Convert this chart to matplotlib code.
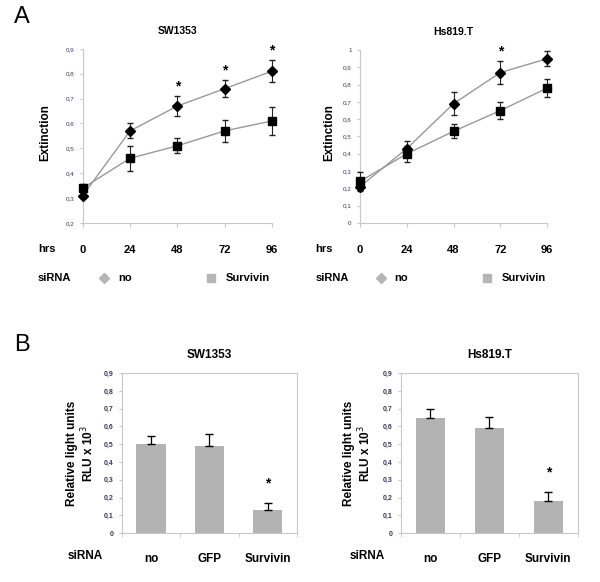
import matplotlib
matplotlib.use("Agg")
import matplotlib.pyplot as plt
from matplotlib.ticker import FixedLocator, FuncFormatter

plt.rcParams['font.family'] = ['Liberation Sans', 'DejaVu Sans']

# data, panel A (growth curves)
hrs = [0, 24, 48, 72, 96]
sw_no = [0.31, 0.57, 0.67, 0.74, 0.81]
sw_no_err = [0.01, 0.03, 0.04, 0.035, 0.045]
sw_surv = [0.34, 0.46, 0.51, 0.57, 0.61]
sw_surv_err = [0.015, 0.05, 0.03, 0.045, 0.055]
sw_stars = [48, 72, 96]

hs_no = [0.21, 0.43, 0.69, 0.87, 0.95]
hs_no_err = [0.02, 0.045, 0.065, 0.065, 0.045]
hs_surv = [0.24, 0.40, 0.53, 0.65, 0.78]
hs_surv_err = [0.055, 0.045, 0.04, 0.05, 0.05]
hs_stars = [72]

# data, panel B (luciferase)
bar_cats = ['no', 'GFP', 'Survivin']
sw_rlu = [0.50, 0.49, 0.13]
sw_rlu_err = [0.045, 0.065, 0.04]
hs_rlu = [0.65, 0.59, 0.18]
hs_rlu_err = [0.05, 0.065, 0.05]
bar_stars = ['Survivin']

tick_col = '#3a3a5a'
spine_col = '#c8c8c8'


def comma(v, pos=None):
    s = '%.1f' % v
    if s.endswith('.0'):
        s = s[:-2]
    return s.replace('.', ',')


def line_panel(ax, title, no, no_err, surv, surv_err, stars, ylim, step, ylab_x):
    ax.plot(hrs, no, color='#999999', lw=1, zorder=2, clip_on=False)
    ax.plot(hrs, surv, color='#999999', lw=1, zorder=2, clip_on=False)
    ax.errorbar(hrs, no, yerr=no_err, fmt='D', color='black', ms=5,
                ecolor='#222222', elinewidth=0.8, capsize=2.5, zorder=3, clip_on=False)
    ax.errorbar(hrs, surv, yerr=surv_err, fmt='s', color='black', ms=6,
                ecolor='#222222', elinewidth=0.8, capsize=2.5, zorder=3, clip_on=False)
    for h in stars:
        i = hrs.index(h)
        ax.annotate('*', (h, no[i] + no_err[i]), xytext=(0, 7), textcoords='offset points',
                    ha='center', va='center', fontsize=10, fontweight='bold')
    ax.set_xlim(0, 96)
    ax.set_ylim(*ylim)
    n = int(round((ylim[1] - ylim[0]) / step))
    ax.yaxis.set_major_locator(FixedLocator([ylim[0] + k * step for k in range(n + 1)]))
    ax.yaxis.set_major_formatter(FuncFormatter(comma))
    ax.set_xticks(hrs)
    ax.set_xticklabels([str(h) for h in hrs], fontsize=8, fontweight='bold')
    ax.tick_params(axis='x', length=3, pad=13, color=spine_col)
    ax.tick_params(axis='y', length=2.5, labelsize=4.5, labelcolor=tick_col, color=spine_col)
    for s in ['top', 'right']:
        ax.spines[s].set_visible(False)
    for s in ['left', 'bottom']:
        ax.spines[s].set_color(spine_col)
    ax.set_title(title, fontsize=7.5, fontweight='bold', pad=11)
    ax.set_ylabel('Extinction', fontsize=8.5, fontweight='bold')
    ax.yaxis.set_label_coords(ylab_x, 0.52)
    ax.text(-0.19, -0.15, 'hrs', transform=ax.transAxes, ha='center', va='center',
            fontsize=8, fontweight='bold')
    # legend row
    ax.text(-0.15, -0.316, 'siRNA', transform=ax.transAxes, ha='center', va='center',
            fontsize=8, fontweight='bold')
    ax.plot([0.11], [-0.316], 'D', color='#b5b5b5', ms=5, transform=ax.transAxes, clip_on=False)
    ax.text(0.185, -0.316, 'no', transform=ax.transAxes, ha='left', va='center',
            fontsize=8, fontweight='bold')
    ax.plot([0.678], [-0.316], 's', color='#b5b5b5', ms=5.5, transform=ax.transAxes, clip_on=False)
    ax.text(0.758, -0.316, 'Survivin', transform=ax.transAxes, ha='left', va='center',
            fontsize=8, fontweight='bold')


def bar_panel(ax, title, vals, errs, ylab_x, sirna_x):
    x = list(range(len(bar_cats)))
    ax.bar(x, vals, width=0.5, color='#b3b3b3', zorder=2)
    ax.errorbar(x, vals, yerr=[[0] * len(errs), errs], fmt='none', ecolor='black',
                elinewidth=0.9, capsize=3, zorder=3)
    for c in bar_stars:
        i = bar_cats.index(c)
        ax.annotate('*', (i, vals[i] + errs[i]), xytext=(0, 14), textcoords='offset points',
                    ha='center', va='center', fontsize=10, fontweight='bold')
    ax.set_xlim(-0.5, 2.5)
    ax.set_ylim(0, 0.9)
    ax.yaxis.set_major_locator(FixedLocator([k * 0.1 for k in range(10)]))
    ax.yaxis.set_major_formatter(FuncFormatter(comma))
    ax.set_xticks(x)
    ax.set_xticklabels(bar_cats, fontsize=8.5, fontweight='bold')
    ax.set_xticks([-0.5, 0.5, 1.5, 2.5], minor=True)
    ax.tick_params(axis='x', which='major', length=0, pad=14)
    ax.tick_params(axis='x', which='minor', length=3, color=spine_col)
    ax.tick_params(axis='y', length=2.5, labelsize=5, labelcolor=tick_col, color=spine_col)
    for lab in ax.get_yticklabels():
        lab.set_fontweight('bold')
    for s in ax.spines.values():
        s.set_color(spine_col)
    ax.set_title(title, fontsize=8.5, fontweight='bold', pad=11)
    ax.set_ylabel('Relative light units\nRLU x 10$^3$', fontsize=8.5, fontweight='bold',
                  linespacing=1.1)
    ax.yaxis.set_label_coords(ylab_x, 0.5)
    ax.text(sirna_x, -0.144, 'siRNA', transform=ax.transAxes, ha='center', va='center',
            fontsize=8.5, fontweight='bold')


fig = plt.figure(figsize=(6, 5.82), dpi=100)
fig.patch.set_facecolor('white')

ax1 = fig.add_axes([0.138, 0.617, 0.315, 0.299])
line_panel(ax1, 'SW1353', sw_no, sw_no_err, sw_surv, sw_surv_err, sw_stars,
           (0.2, 0.9), 0.1, -0.165)
ax2 = fig.add_axes([0.600, 0.617, 0.312, 0.297])
line_panel(ax2, 'Hs819.T', hs_no, hs_no_err, hs_surv, hs_surv_err, hs_stars,
           (0.0, 1.0), 0.1, -0.13)

ax3 = fig.add_axes([0.203, 0.084, 0.292, 0.275])
bar_panel(ax3, 'SW1353', sw_rlu, sw_rlu_err, -0.145, -0.21)
ax4 = fig.add_axes([0.668, 0.084, 0.295, 0.275])
bar_panel(ax4, 'Hs819.T', hs_rlu, hs_rlu_err, -0.155, -0.19)

fig.text(22 / 600, 1 - 17 / 582, 'A', fontsize=17, ha='center', va='center')
fig.text(22 / 600, 1 - 345 / 582, 'B', fontsize=17, ha='center', va='center')

fig.savefig('out.png', dpi=100, facecolor='white')
